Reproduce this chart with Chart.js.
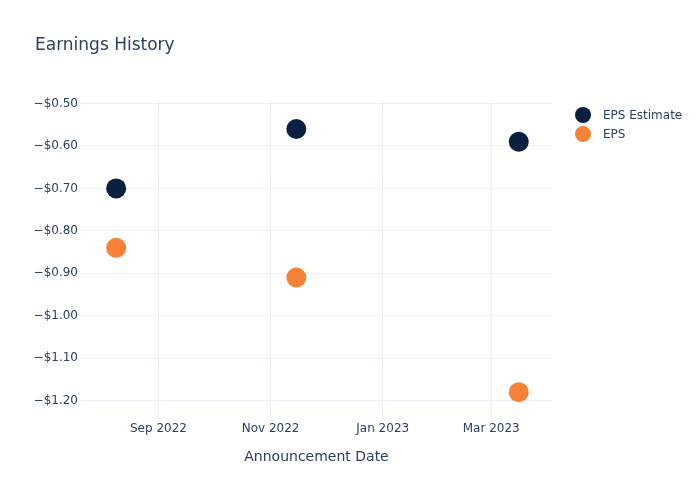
<!DOCTYPE html>
<html>
<head>
<meta charset="utf-8">
<script src="https://cdn.jsdelivr.net/npm/chart.js@4/dist/chart.umd.min.js"></script>
<style>
  html, body { margin: 0; padding: 0; background: #fff; }
  #wrap { position: relative; width: 700px; height: 500px; font-family: "DejaVu Sans", Verdana, sans-serif; color: #2a3f5f; }
  #title { position: absolute; left: 35px; top: 34px; font-size: 17px; line-height: 20px; white-space: nowrap; }
  .leg { position: absolute; left: 575px; font-size: 12px; line-height: 14px; white-space: nowrap; }
  .leg .dot { position: absolute; left: 0; top: -1px; width: 16px; height: 16px; border-radius: 50%; }
  .leg .txt { position: absolute; left: 28px; top: 0; }
  canvas { position: absolute; left: 0; top: 0; }
</style>
</head>
<body>
<div id="wrap">
  <canvas id="c" width="700" height="500"></canvas>
  <div id="title">Earnings History</div>
  <div class="leg" id="leg0" style="top:108px"><div class="dot"></div><div class="txt"></div></div>
  <div class="leg" id="leg1" style="top:127px"><div class="dot"></div><div class="txt"></div></div>
</div>
<script>
// ---- data ----
const dates = ['2022-08-09', '2022-11-15', '2023-03-16'];
const epsEstimate = [-0.70, -0.56, -0.59];
const eps = [-0.84, -0.91, -1.18];
const seriesNames = ['EPS Estimate', 'EPS'];
const seriesColors = ['#0b1f41', '#f68237'];
const xTickDates = ['2022-09-01', '2022-11-01', '2023-01-01', '2023-03-01'];
const xTickLabels = ['Sep 2022', 'Nov 2022', 'Jan 2023', 'Mar 2023'];
const yTicks = [-0.5, -0.6, -0.7, -0.8, -0.9, -1.0, -1.1, -1.2];
const xRange = ['2022-07-20T08:00', '2023-04-03T15:00'];
const yRange = [-1.248, -0.494];

const dayOf = s => Date.parse(s + (s.length === 10 ? 'T00:00Z' : 'Z')) / 86400000;
const xTickVals = xTickDates.map(dayOf);

function pts(vals) { return dates.map((d, i) => ({ x: dayOf(d), y: vals[i] })); }

const textColor = '#2a3f5f';
const gridColor = '#ebf0f8';
const fontFam = '"DejaVu Sans", Verdana, sans-serif';

function ds(i, vals) {
  return {
    label: seriesNames[i], data: pts(vals),
    backgroundColor: seriesColors[i], borderColor: seriesColors[i],
    pointBackgroundColor: seriesColors[i], pointBorderColor: seriesColors[i],
    pointBorderWidth: 0, pointHoverBorderWidth: 0, borderWidth: 0,
    pointRadius: 10, pointHoverRadius: 10
  };
}

new Chart(document.getElementById('c'), {
  type: 'scatter',
  data: { datasets: [ds(0, epsEstimate), ds(1, eps)] },
  options: {
    responsive: false,
    animation: false,
    events: [],
    layout: { padding: { left: 35, right: 147, top: 101, bottom: 0 } },
    plugins: { legend: { display: false }, title: { display: false }, tooltip: { enabled: false } },
    scales: {
      x: {
        type: 'linear',
        min: dayOf(xRange[0]),
        max: dayOf(xRange[1]),
        afterBuildTicks: s => { s.ticks = xTickVals.map(v => ({ value: v })); },
        afterFit: s => { s.height = 79; },
        ticks: {
          color: textColor, font: { family: fontFam, size: 12 }, padding: 1, maxRotation: 0,
          callback: (v) => { const i = xTickVals.indexOf(v); return i >= 0 ? xTickLabels[i] : ''; }
        },
        grid: { color: gridColor, lineWidth: 1, drawTicks: false },
        border: { display: false },
        title: { display: true, text: 'Announcement Date', color: textColor, font: { family: fontFam, size: 14 }, padding: { top: 0, bottom: 34 } }
      },
      y: {
        type: 'linear',
        min: yRange[0],
        max: yRange[1],
        afterBuildTicks: s => { s.ticks = yTicks.map(v => ({ value: v })); },
        afterFit: s => { s.width = 45; },
        ticks: {
          color: textColor, font: { family: fontFam, size: 12 }, padding: 2,
          callback: v => (v < 0 ? '\u2212' : '') + '$' + Math.abs(v).toFixed(2)
        },
        grid: { color: gridColor, lineWidth: 1, drawTicks: false },
        border: { display: false }
      }
    }
  }
});

['leg0', 'leg1'].forEach((id, i) => {
  const el = document.getElementById(id);
  el.querySelector('.dot').style.background = seriesColors[i];
  el.querySelector('.txt').textContent = seriesNames[i];
});
</script>
</body>
</html>
